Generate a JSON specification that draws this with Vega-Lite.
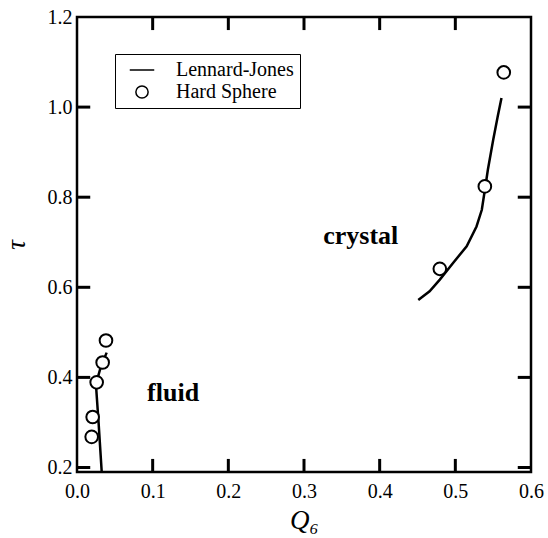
{
  "$schema": "https://vega.github.io/schema/vega-lite/v6.json",
  "autosize": {"type": "none"},
  "padding": {"left": 77, "top": 17, "right": 17, "bottom": 66},
  "width": 454,
  "height": 455,
  "background": "white",
  "config": {
    "view": {"stroke": "black", "strokeWidth": 2.5},
    "axis": {
      "domain": false, "ticks": false, "tickSize": 0,
      "grid": false, "labelFlush": false,
      "labelFont": "Liberation Serif", "labelFontSize": 20, "labelColor": "black",
      "titleFont": "Liberation Serif", "titleFontSize": 27, "titleFontStyle": "italic",
      "titleFontWeight": "normal", "titleColor": "black"
    },
    "legend": {
      "labelFont": "Liberation Serif", "labelFontSize": 20, "labelColor": "black"
    }
  },
  "layer": [
    {
      "data": {"values": [
        {"seg": "fluid", "ord": 1, "q": 0.0326, "tau": 0.192},
        {"seg": "fluid", "ord": 2, "q": 0.0285, "tau": 0.300},
        {"seg": "fluid", "ord": 3, "q": 0.0264, "tau": 0.351},
        {"seg": "fluid", "ord": 4, "q": 0.0250, "tau": 0.385},
        {"seg": "fluid", "ord": 5, "q": 0.0304, "tau": 0.417},
        {"seg": "fluid", "ord": 6, "q": 0.0343, "tau": 0.435},
        {"seg": "fluid", "ord": 7, "q": 0.0392, "tau": 0.455},
        {"seg": "crystal", "ord": 1, "q": 0.451, "tau": 0.572},
        {"seg": "crystal", "ord": 2, "q": 0.466, "tau": 0.591},
        {"seg": "crystal", "ord": 3, "q": 0.4795, "tau": 0.617},
        {"seg": "crystal", "ord": 4, "q": 0.497, "tau": 0.654},
        {"seg": "crystal", "ord": 5, "q": 0.515, "tau": 0.691},
        {"seg": "crystal", "ord": 6, "q": 0.528, "tau": 0.735},
        {"seg": "crystal", "ord": 7, "q": 0.535, "tau": 0.772},
        {"seg": "crystal", "ord": 8, "q": 0.539, "tau": 0.816},
        {"seg": "crystal", "ord": 9, "q": 0.543, "tau": 0.861},
        {"seg": "crystal", "ord": 10, "q": 0.550, "tau": 0.927},
        {"seg": "crystal", "ord": 11, "q": 0.556, "tau": 0.979},
        {"seg": "crystal", "ord": 12, "q": 0.561, "tau": 1.020}
      ]},
      "mark": {"type": "line", "color": "black", "strokeWidth": 2.5, "interpolate": "linear"},
      "encoding": {
        "x": {"field": "q", "type": "quantitative", "scale": {"domain": [0, 0.6], "nice": false, "zero": false},
              "axis": {"orient": "bottom", "values": [0, 0.1, 0.2, 0.3, 0.4, 0.5, 0.6], "format": ".1f", "title": "Q₆", "labelPadding": 9, "titlePadding": 6}},
        "y": {"field": "tau", "type": "quantitative", "scale": {"domain": [0.19, 1.2], "nice": false, "zero": false},
              "axis": {"orient": "left", "values": [0.2, 0.4, 0.6, 0.8, 1.0, 1.2], "format": ".1f", "title": "τ", "labelPadding": 5, "titlePadding": 17}},
        "detail": {"field": "seg"},
        "order": {"field": "ord", "type": "quantitative"}
      }
    },
    {
      "data": {"values": [{"q": 0.1}, {"q": 0.2}, {"q": 0.3}, {"q": 0.4}, {"q": 0.5}]},
      "layer": [
        {
          "mark": {"type": "rule", "color": "black", "strokeWidth": 3, "opacity": 1},
          "encoding": {
            "x": {"field": "q", "type": "quantitative"},
            "y": {"datum": 0.19, "type": "quantitative"},
            "y2": {"datum": 0.219}
          }
        },
        {
          "mark": {"type": "rule", "color": "black", "strokeWidth": 3, "opacity": 1},
          "encoding": {
            "x": {"field": "q", "type": "quantitative"},
            "y": {"datum": 1.2, "type": "quantitative"},
            "y2": {"datum": 1.171}
          }
        }
      ]
    },
    {
      "data": {"values": [{"tau": 0.2}, {"tau": 0.4}, {"tau": 0.6}, {"tau": 0.8}, {"tau": 1.0}]},
      "layer": [
        {
          "mark": {"type": "rule", "color": "black", "strokeWidth": 3, "opacity": 1},
          "encoding": {
            "y": {"field": "tau", "type": "quantitative"},
            "x": {"datum": 0, "type": "quantitative"},
            "x2": {"datum": 0.0175}
          }
        },
        {
          "mark": {"type": "rule", "color": "black", "strokeWidth": 3, "opacity": 1},
          "encoding": {
            "y": {"field": "tau", "type": "quantitative"},
            "x": {"datum": 0.6, "type": "quantitative"},
            "x2": {"datum": 0.5825}
          }
        }
      ]
    },
    {
      "data": {"values": [
        {"series": "Hard Sphere", "q": 0.0194, "tau": 0.268},
        {"series": "Hard Sphere", "q": 0.0207, "tau": 0.312},
        {"series": "Hard Sphere", "q": 0.0260, "tau": 0.389},
        {"series": "Hard Sphere", "q": 0.0339, "tau": 0.433},
        {"series": "Hard Sphere", "q": 0.0383, "tau": 0.482},
        {"series": "Hard Sphere", "q": 0.4795, "tau": 0.641},
        {"series": "Hard Sphere", "q": 0.539, "tau": 0.824},
        {"series": "Hard Sphere", "q": 0.564, "tau": 1.077}
      ]},
      "mark": {"type": "point", "filled": true, "fill": "white", "stroke": "black", "strokeWidth": 2, "size": 160, "opacity": 1},
      "encoding": {
        "x": {"field": "q", "type": "quantitative"},
        "y": {"field": "tau", "type": "quantitative"},
        "shape": {"field": "series", "type": "nominal",
                  "scale": {"domain": ["Lennard-Jones", "Hard Sphere"], "range": ["M-2,0H2", "circle"]},
                  "legend": {"orient": "none", "legendX": 38, "legendY": 37, "title": null,
                             "strokeColor": "black", "padding": 6, "fillColor": "white",
                             "symbolSize": 150, "symbolOffset": 11, "labelOffset": 24, "rowPadding": 2,
                             "encode": {"symbols": {"update": {
                               "stroke": {"value": "black"}, "strokeWidth": {"value": 3},
                               "fill": {"value": "white"}, "opacity": {"value": 1}}}}}}
      }
    },
    {
      "data": {"values": [
        {"label": "crystal", "q": 0.375, "tau": 0.714},
        {"label": "fluid", "q": 0.127, "tau": 0.366}
      ]},
      "mark": {"type": "text", "font": "Liberation Serif", "fontWeight": "bold", "fontSize": 26, "color": "black", "baseline": "middle", "align": "center"},
      "encoding": {
        "x": {"field": "q", "type": "quantitative"},
        "y": {"field": "tau", "type": "quantitative"},
        "text": {"field": "label"}
      }
    }
  ]
}
